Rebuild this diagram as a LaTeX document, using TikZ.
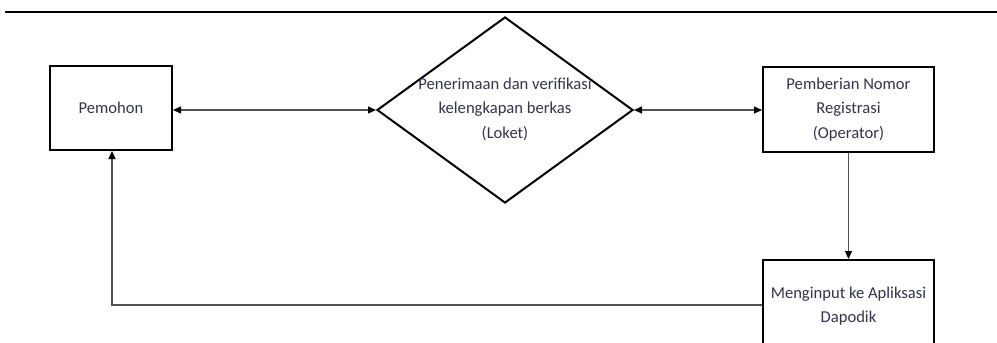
\documentclass[tikz,border=0pt]{standalone}
\usepackage{fontspec}
\setmainfont{Carlito}
\usetikzlibrary{shapes.geometric,arrows.meta}
\definecolor{txt}{HTML}{33334D}
\definecolor{ln}{HTML}{505050}
\begin{document}
\begin{tikzpicture}[x=1pt,y=-1pt,
  box/.style={draw=black,line width=2pt,fill=white,inner sep=0pt,align=center,
    font=\fontsize{16.6}{24.5}\selectfont,text=txt},
  conn/.style={draw=ln,line width=1.1pt},
  tip/.style={-{Triangle[length=8pt,width=7pt,color=black]}},
  both/.style={{Triangle[length=8pt,width=7pt,color=black]}-{Triangle[length=8pt,width=7pt,color=black]}}]
\useasboundingbox (0,0) rectangle (997,343);
\clip (0,0) rectangle (997,343);
\draw[line width=1.6pt] (5,12) -- (997,12);
\node[box,minimum width=122pt,minimum height=84pt] (pem) at (111,108) {Pemohon};
\node[box,diamond,minimum width=256pt,minimum height=186pt,aspect=1.376] (dia) at (505,110) {};
\node[align=center,font=\fontsize{16.6}{24.5}\selectfont,text=txt] (diat) at (505,109)
  {Penerimaan dan verifikasi\\kelengkapan berkas\\(Loket)};
\node[box,minimum width=171pt,minimum height=85pt] (reg) at (848.5,109.5)
  {Pemberian Nomor\\Registrasi\\(Operator)};
\node[box,minimum width=171pt,minimum height=92pt] (inp) at (848.5,306)
  {Menginput ke Apliksasi\\Dapodik};
\draw[conn,both] (pem.east |- 0,110) -- (dia.west);
\draw[conn,both] (dia.east) -- (reg.west |- 0,110);
\draw[conn,tip] (reg.south) -- (inp.north);
\coordinate (c1) at (112,305);
\draw[conn,tip] (inp.west |- c1) -- (c1) -- (pem.south -| c1);
\end{tikzpicture}
\end{document}
